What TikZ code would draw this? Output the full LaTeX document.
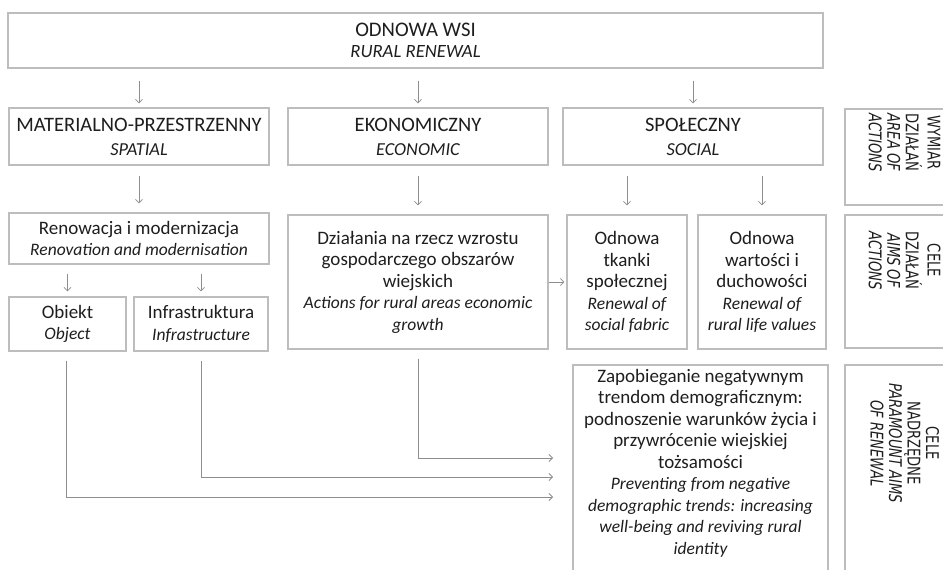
\documentclass[tikz,border=0pt]{standalone}
\usepackage{fontspec}
\setmainfont{Carlito}
\newfontfamily\rotfont{DejaVu Sans}
\usetikzlibrary{arrows.meta,calc}
\definecolor{boxc}{HTML}{BDBDBD}
\definecolor{arrc}{HTML}{8E8E8E}
\definecolor{txt}{HTML}{1E1E1E}
\newcommand{\bodyit}[1]{{\fontsize{17.5}{21.5}\selectfont\itshape #1}}
\newcommand{\headit}[1]{{\fontsize{18.3}{24}\selectfont\itshape #1}}
\newcommand{\rotlines}[1]{\scalebox{0.75}[1]{\rotfont\fontsize{17.5}{18.5}\selectfont
  \begin{tabular}{@{}c@{}}#1\end{tabular}}}
\tikzset{
  box/.style={draw=boxc, line width=1.1pt, align=center, text=txt, inner sep=0pt,
    font=\fontsize{19}{21.5}\selectfont},
  headbox/.style={box, font=\fontsize{20.5}{24}\selectfont},
  arr/.style={draw=arrc, line width=0.8pt, -{Straight Barb[length=3.5pt,width=7pt]}},
  rbox/.style={draw=boxc, line width=1.1pt, minimum width=120},
  rotlabel/.style={rotate=-90, anchor=west, text=txt, inner sep=0pt}
}
\begin{document}
\begin{tikzpicture}[x=1pt,y=-1pt]
\clip (0,0) rectangle (943,570);
\fill[white] (0,0) rectangle (943,570);
% top
\node[headbox, minimum width=815, minimum height=55, font=\fontsize{20.7}{21.5}\selectfont] (top) at (415.5,40.5)
  {ODNOWA WSI\\{\fontsize{18.7}{21.5}\selectfont\itshape RURAL RENEWAL}};
% row 2
\node[headbox, minimum width=260, minimum height=57] (spatial) at (139,136.5)
  {MATERIALNO-PRZESTRZENNY\\\headit{SPATIAL}};
\node[headbox, minimum width=260, minimum height=57] (econ) at (418,136.5)
  {EKONOMICZNY\\\headit{ECONOMIC}};
\node[headbox, minimum width=260, minimum height=57] (social) at (693,136.5)
  {SPOŁECZNY\\\headit{SOCIAL}};
% row 3
\node[box, minimum width=260, minimum height=51] (renov) at (139,238.5)
  {Renowacja i modernizacja\\\bodyit{Renovation and modernisation}};
\node[box, minimum width=260, minimum height=134] (dzial) at (418,282)
  {Działania na rzecz wzrostu\\gospodarczego obszarów\\wiejskich\\\bodyit{Actions for rural areas economic}\\\bodyit{growth}};
\node[box, minimum width=120, minimum height=134] (tkanki) at (627,282)
  {Odnowa\\tkanki\\społecznej\\\bodyit{Renewal of}\\\bodyit{social fabric}};
\node[box, minimum width=128, minimum height=134] (values) at (762,282)
  {Odnowa\\wartości i\\duchowości\\\bodyit{Renewal of}\\\bodyit{rural life values}};
% row 4
\node[box, minimum width=117, minimum height=54] (obiekt) at (67.5,324)
  {Obiekt\\\bodyit{Object}};
\node[box, minimum width=134, minimum height=54] (infra) at (201,324)
  {Infrastruktura\\\bodyit{Infrastructure}};
% goal box (runs past the bottom edge)
\node[box, minimum width=255, minimum height=240] (goal) at (700.5,485) {};
\node[text=txt, align=center, anchor=north, inner sep=0pt,
  font=\fontsize{19}{21.5}\selectfont] (goaltext) at (700.5,369)
  {Zapobieganie negatywnym\\trendom demograficznym:\\podnoszenie warunków życia i\\przywrócenie wiejskiej\\tożsamości\\\bodyit{Preventing from negative}\\\bodyit{demographic trends: increasing}\\\bodyit{well-being and reviving rural}\\\bodyit{identity}};
% right-hand labels
\node[rbox, minimum height=96] (r1) at (905,157) {};
\node[rotlabel] (r1t) at (902,113) {\rotlines{WYMIAR\\DZIAŁAŃ\\\itshape AREA OF\\\itshape ACTIONS}};
\node[rbox, minimum height=133] (r2) at (905,281.5) {};
\node[rotlabel] (r2t) at (902,231) {\rotlines{CELE\\DZIAŁAŃ\\\itshape AIMS OF\\\itshape ACTIONS}};
\node[rbox, minimum height=240] (r3) at (905,485) {};
\node[rotlabel] (r3t) at (902,383) {\rotlines{CELE\\NADRZĘDNE\\\itshape PARAMOUNT AIMS\\\itshape OF RENEWAL}};
% arrows
\draw[arr] ($(top.south -| spatial.north)+(0,12)$) -- ($(spatial.north)+(0,-4)$);
\draw[arr] ($(top.south -| econ.north)+(0,12)$) -- ($(econ.north)+(0,-4)$);
\draw[arr] ($(top.south -| social.north)+(0,12)$) -- ($(social.north)+(0,-4)$);
\draw[arr] ($(spatial.south)+(0,10)$) -- ($(renov.north)+(0,-9)$);
\draw[arr] ($(econ.south)+(0,10)$) -- ($(dzial.north)+(0,-9)$);
\draw[arr] ($(social.south -| tkanki.north)+(0,10)$) -- ($(tkanki.north)+(0,-9)$);
\draw[arr] ($(social.south -| values.north)+(0,10)$) -- ($(values.north)+(0,-9)$);
\draw[arr] ($(renov.south -| obiekt.north)+(0,9)$) -- ($(obiekt.north)+(0,-5)$);
\draw[arr] ($(renov.south -| infra.north)+(0,9)$) -- ($(infra.north)+(0,-5)$);
\draw[arr] (dzial.east) -- ($(tkanki.west)+(-2,0)$);
\coordinate (in1) at (553,458);
\coordinate (in2) at (553,477);
\coordinate (in3) at (553,497);
\draw[arr] ($(dzial.south)+(0,9)$) |- (in1);
\draw[arr] ($(infra.south)+(0,9)$) |- (in2);
\draw[arr] ($(obiekt.south)+(-1.5,9)$) |- (in3);
\end{tikzpicture}
\end{document}
